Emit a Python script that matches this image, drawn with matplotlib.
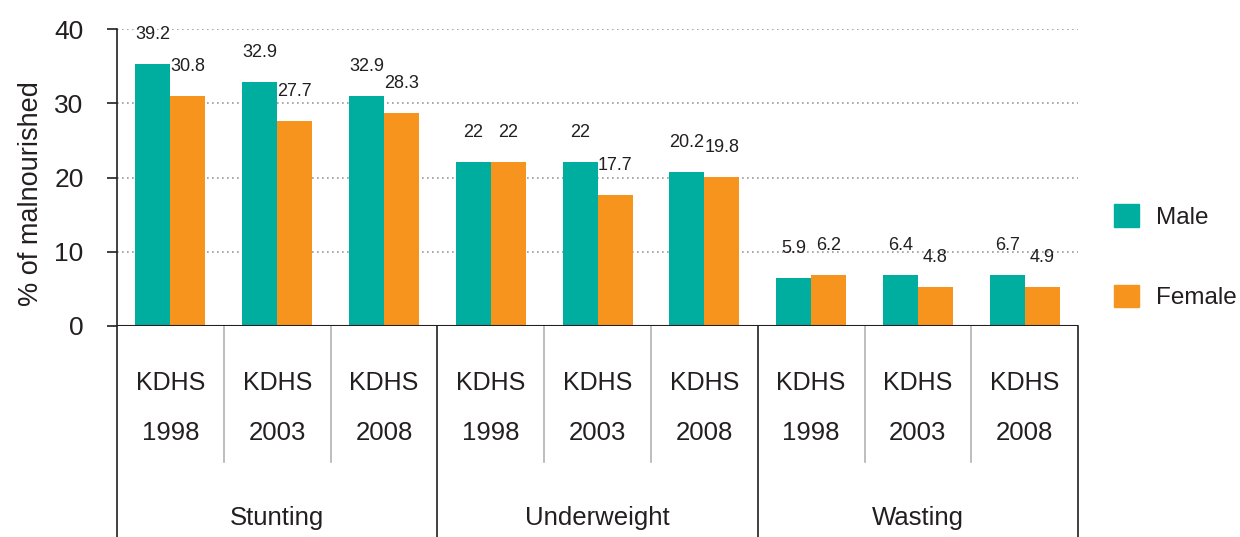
import numpy as np
import matplotlib
matplotlib.use('Agg')
import matplotlib.pyplot as plt
import matplotlib.transforms as mtransforms
from matplotlib.patches import Patch

plt.rcParams['font.family'] = ['Liberation Sans', 'DejaVu Sans']

# data
groups = ['Stunting', 'Underweight', 'Wasting']
years = ['1998', '2003', '2008']
male_bar = [35.3, 32.9, 31.0, 22.1, 22.1, 20.7, 6.4, 6.8, 6.8]
female_bar = [31.0, 27.6, 28.7, 22.1, 17.6, 20.1, 6.8, 5.2, 5.2]
male_lbl = [39.2, 32.9, 32.9, 22, 22, 20.2, 5.9, 6.4, 6.7]
female_lbl = [30.8, 27.7, 28.3, 22, 17.7, 19.8, 6.2, 4.8, 4.9]

teal = '#00ae9f'
orange = '#f7941e'
dark = '#231f20'

fig = plt.figure(figsize=(12.4, 5.37), dpi=100)
ax = fig.add_axes([0.0944, 0.3935, 0.775, 0.5519])

n = len(male_bar)
x = np.arange(n)
w = 0.328
ax.bar(x - w/2, male_bar, w, color=teal, zorder=3)
ax.bar(x + w/2, female_bar, w, color=orange, zorder=3)

for i in range(n):
    ax.text(x[i] - w/2, male_bar[i] + 4.0, '{:g}'.format(male_lbl[i]),
            ha='center', va='center', fontsize=13, color=dark)
    ax.text(x[i] + w/2, female_bar[i] + 4.0, '{:g}'.format(female_lbl[i]),
            ha='center', va='center', fontsize=13, color=dark)

ax.set_xlim(-0.5, n - 0.5)
ax.set_ylim(0, 40)
ax.set_yticks([0, 10, 20, 30, 40])
ax.tick_params(axis='y', length=7, width=1.2, color=dark, labelsize=19,
               labelcolor=dark, pad=17)
ax.set_xticks([])
for s in ax.spines.values():
    s.set_visible(False)

# dotted grid
for yv in [10, 20, 30, 40]:
    ax.axhline(yv, color='#9a9a9a', lw=1.2, ls=(0, (1, 2)), zorder=1)
ax.axhline(0, color=dark, lw=1.5, zorder=4)

ax.set_ylabel('% of malnourished', fontsize=19.5, color=dark)
ax.yaxis.set_label_coords(-0.076, 0.446)

# category axis below the plot
trans = mtransforms.blended_transform_factory(ax.transData, ax.transAxes)
ax.plot([-0.5, -0.5], [1, -0.75], color=dark, lw=1.2, transform=trans, clip_on=False)
for g in range(len(groups)):
    xr = 3 * g + 2.5
    ax.plot([xr, xr], [0, -0.75], color=dark, lw=1.2, transform=trans, clip_on=False)
    ax.text(3 * g + 1, -0.649, groups[g], ha='center', va='center',
            fontsize=18.5, color=dark, transform=trans)
    for k in range(len(years)):
        xc = 3 * g + k
        ax.text(xc, -0.193, 'KDHS', ha='center', va='center', fontsize=18,
                color=dark, transform=trans)
        ax.text(xc, -0.362, years[k], ha='center', va='center', fontsize=18.5,
                color=dark, transform=trans)
        if k < 2:
            ax.plot([xc + 0.5, xc + 0.5], [0, -0.46], color='#b3b3b3', lw=1.2,
                    transform=trans, clip_on=False)

handles = [Patch(color=teal, label='Male'), Patch(color=orange, label='Female')]
fig.legend(handles=handles, loc='center left', bbox_to_anchor=(0.898, 0.522),
           frameon=False, fontsize=17.5, handlelength=1.05, handleheight=1.05,
           handletextpad=0.7, labelspacing=2.3, borderpad=0, borderaxespad=0,
           labelcolor=dark)

fig.savefig('out.png', dpi=100)
